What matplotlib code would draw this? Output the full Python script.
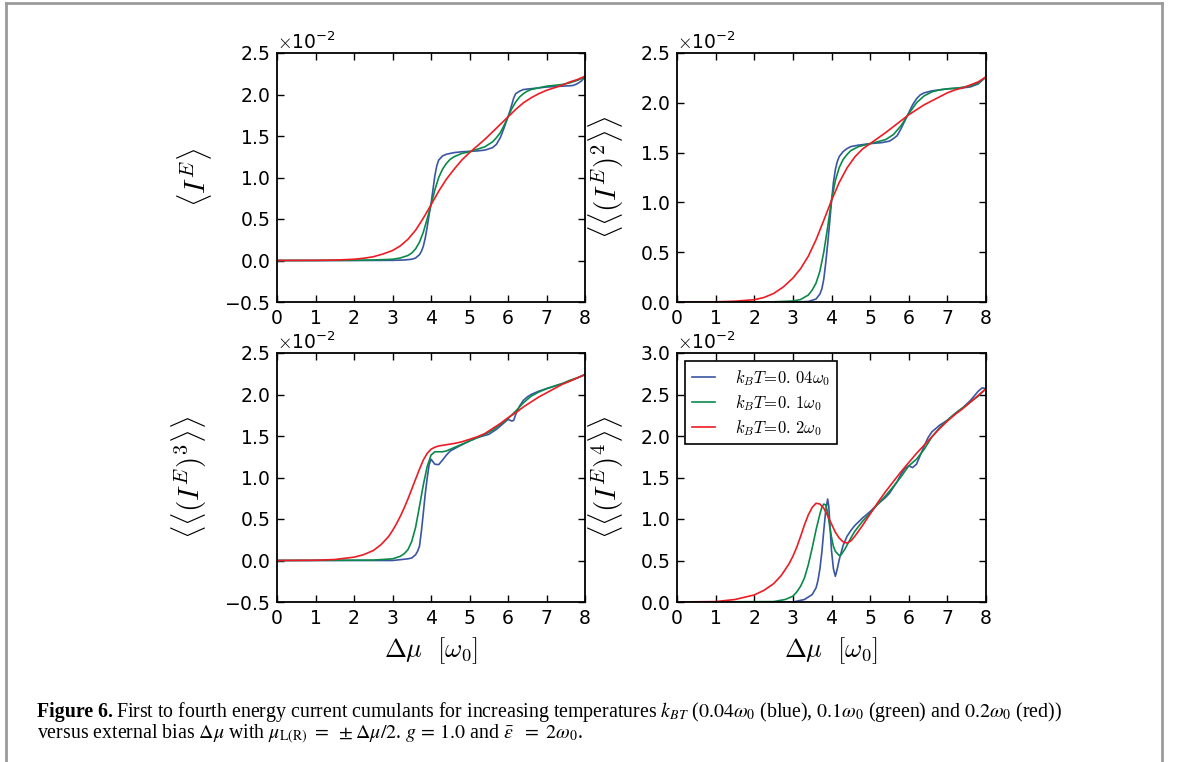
import matplotlib
matplotlib.use('Agg')
import matplotlib.pyplot as plt
from matplotlib.lines import Line2D
import numpy as np

plt.rcParams['mathtext.fontset'] = 'cm'
plt.rcParams['font.family'] = 'DejaVu Sans'

BLUE = '#3a55a4'
GREEN = '#0a8a4a'
RED = '#ec1c24'

temp_labels = [r'$k_BT\!=\!0.\,04\omega_0$', r'$k_BT\!=\!0.\,1\omega_0$', r'$k_BT\!=\!0.\,2\omega_0$']

# ---- panel 1: <I^E>  (values in units of 1e-2)
x1_blue = [0, 1, 2, 3, 3.3, 3.5, 3.6, 3.7, 3.75, 3.8, 3.85, 3.9, 3.95, 4.0, 4.05, 4.1, 4.15, 4.2, 4.3, 4.4, 4.6,
           4.8, 5.0, 5.2, 5.4, 5.6, 5.7, 5.8, 5.9, 6.0, 6.05, 6.1, 6.15, 6.2, 6.3, 6.4, 6.6, 6.8, 7.0, 7.2, 7.4,
           7.6, 7.7, 7.8, 7.9, 8.0]
y1_blue = [0, 0, 0, 0.002, 0.006, 0.015, 0.03, 0.07, 0.11, 0.17, 0.27, 0.40, 0.55, 0.68, 0.85, 1.02, 1.14, 1.21,
           1.26, 1.28, 1.30, 1.31, 1.315, 1.32, 1.33, 1.36, 1.40, 1.48, 1.60, 1.73, 1.80, 1.88, 1.96, 2.01, 2.04,
           2.06, 2.07, 2.08, 2.09, 2.095, 2.10, 2.105, 2.11, 2.13, 2.16, 2.21]
x1_green = [0, 1, 2, 2.5, 3.0, 3.2, 3.4, 3.5, 3.6, 3.7, 3.8, 3.9, 4.0, 4.1, 4.2, 4.3, 4.4, 4.5, 4.6, 4.8, 5.0,
            5.2, 5.4, 5.6, 5.7, 5.8, 5.9, 6.0, 6.1, 6.2, 6.3, 6.4, 6.5, 6.6, 6.8, 7.0, 7.2, 7.4, 7.6, 7.8, 8.0]
y1_green = [0, 0, 0.003, 0.006, 0.015, 0.03, 0.06, 0.09, 0.14, 0.22, 0.34, 0.50, 0.67, 0.85, 1.00, 1.10, 1.17,
            1.22, 1.25, 1.29, 1.31, 1.34, 1.37, 1.43, 1.48, 1.54, 1.63, 1.73, 1.83, 1.91, 1.97, 2.01, 2.04, 2.06,
            2.08, 2.10, 2.11, 2.12, 2.14, 2.17, 2.21]
x1_red = [0, 1, 1.5, 2.0, 2.25, 2.5, 2.75, 3.0, 3.2, 3.4, 3.6, 3.8, 4.0, 4.2, 4.4, 4.6, 4.8, 5.0, 5.2, 5.4, 5.6,
          5.8, 6.0, 6.2, 6.4, 6.6, 6.8, 7.0, 7.2, 7.4, 7.6, 7.8, 8.0]
y1_red = [0, 0.002, 0.005, 0.015, 0.027, 0.045, 0.078, 0.12, 0.175, 0.255, 0.365, 0.51, 0.67, 0.835, 0.98, 1.10,
          1.21, 1.30, 1.38, 1.46, 1.55, 1.64, 1.73, 1.82, 1.90, 1.96, 2.01, 2.05, 2.08, 2.11, 2.15, 2.18, 2.22]

# ---- panel 2: <<(I^E)^2>>
x2_blue = [0, 3.0, 3.4, 3.6, 3.7, 3.75, 3.8, 3.85, 3.9, 3.95, 4.0, 4.05, 4.1, 4.15, 4.2, 4.3, 4.4, 4.5, 4.7, 5.0,
           5.3, 5.5, 5.6, 5.7, 5.8, 5.9, 6.0, 6.1, 6.2, 6.3, 6.4, 6.6, 6.8, 7.0, 7.2, 7.4, 7.6, 7.8, 8.0]
y2_blue = [0, 0, 0.005, 0.03, 0.08, 0.13, 0.23, 0.39, 0.58, 0.79, 1.01, 1.20, 1.33, 1.41, 1.46, 1.51, 1.54, 1.56,
           1.575, 1.59, 1.60, 1.615, 1.64, 1.67, 1.74, 1.82, 1.90, 1.98, 2.04, 2.08, 2.10, 2.12, 2.13, 2.14, 2.145,
           2.15, 2.16, 2.19, 2.26]
x2_green = [0, 2.5, 3.0, 3.2, 3.4, 3.5, 3.6, 3.7, 3.8, 3.9, 4.0, 4.1, 4.2, 4.3, 4.4, 4.5, 4.7, 5.0, 5.2, 5.4,
            5.6, 5.8, 6.0, 6.2, 6.4, 6.6, 6.8, 7.0, 7.3, 7.6, 7.8, 8.0]
y2_green = [0, 0.002, 0.01, 0.025, 0.07, 0.12, 0.19, 0.31, 0.50, 0.75, 1.02, 1.22, 1.35, 1.43, 1.48, 1.52, 1.56,
            1.59, 1.61, 1.63, 1.68, 1.77, 1.89, 2.00, 2.07, 2.11, 2.13, 2.14, 2.15, 2.17, 2.20, 2.26]
x2_red = [0, 1.0, 1.5, 2.0, 2.25, 2.5, 2.75, 3.0, 3.2, 3.4, 3.6, 3.8, 4.0, 4.2, 4.4, 4.6, 4.8, 5.0, 5.2, 5.4, 5.6,
          5.8, 6.0, 6.2, 6.4, 6.6, 6.8, 7.0, 7.2, 7.4, 7.6, 7.8, 8.0]
y2_red = [0, 0.002, 0.008, 0.023, 0.045, 0.085, 0.15, 0.24, 0.335, 0.46, 0.625, 0.82, 1.02, 1.20, 1.345, 1.455,
          1.535, 1.59, 1.645, 1.70, 1.76, 1.82, 1.88, 1.93, 1.98, 2.02, 2.06, 2.10, 2.13, 2.15, 2.18, 2.21, 2.26]

# ---- panel 3: <<(I^E)^3>>
x3_blue = [0, 3.0, 3.4, 3.5, 3.6, 3.65, 3.7, 3.75, 3.8, 3.85, 3.9, 3.95, 4.0, 4.05, 4.1, 4.2, 4.3, 4.4, 4.5, 4.7,
           5.0, 5.2, 5.5, 5.7, 5.9, 6.0, 6.1, 6.15, 6.2, 6.3, 6.4, 6.5, 6.6, 6.8, 7.0, 7.2, 7.4, 7.6, 7.8, 8.0]
y3_blue = [0, 0, 0.02, 0.03, 0.07, 0.11, 0.17, 0.35, 0.57, 0.80, 0.99, 1.15, 1.22, 1.19, 1.16, 1.155, 1.21, 1.27,
           1.32, 1.37, 1.44, 1.48, 1.52, 1.58, 1.66, 1.70, 1.68, 1.69, 1.76, 1.86, 1.93, 1.97, 2.00, 2.04, 2.07,
           2.10, 2.13, 2.16, 2.20, 2.24]
x3_green = [0, 2.5, 3.0, 3.2, 3.3, 3.4, 3.5, 3.6, 3.7, 3.8, 3.9, 4.0, 4.1, 4.2, 4.3, 4.4, 4.6, 4.8, 5.0, 5.2,
            5.4, 5.6, 5.8, 6.0, 6.2, 6.4, 6.6, 6.8, 7.0, 7.2, 7.4, 7.6, 7.8, 8.0]
y3_green = [0, 0.005, 0.02, 0.05, 0.08, 0.13, 0.23, 0.40, 0.65, 0.91, 1.13, 1.27, 1.31, 1.31, 1.31, 1.32, 1.36,
            1.40, 1.44, 1.48, 1.52, 1.57, 1.64, 1.71, 1.80, 1.90, 1.98, 2.03, 2.07, 2.10, 2.13, 2.17, 2.20, 2.24]
x3_red = [0, 1.0, 1.5, 2.0, 2.25, 2.5, 2.7, 2.9, 3.0, 3.1, 3.2, 3.3, 3.4, 3.5, 3.6, 3.7, 3.8, 3.9, 4.0, 4.1, 4.2,
          4.4, 4.6, 4.8, 5.0, 5.2, 5.4, 5.6, 5.8, 6.0, 6.2, 6.4, 6.6, 6.8, 7.0, 7.2, 7.4, 7.6, 7.8, 8.0]
y3_red = [0, 0.003, 0.012, 0.04, 0.07, 0.12, 0.19, 0.29, 0.36, 0.44, 0.53, 0.63, 0.74, 0.86, 0.98, 1.10, 1.21, 1.29,
          1.34, 1.365, 1.38, 1.395, 1.41, 1.43, 1.46, 1.49, 1.53, 1.59, 1.65, 1.72, 1.78, 1.85, 1.91, 1.97, 2.02,
          2.07, 2.12, 2.16, 2.20, 2.24]

# ---- panel 4: <<(I^E)^4>>
x4_blue = [0, 3.0, 3.3, 3.5, 3.6, 3.65, 3.7, 3.75, 3.8, 3.85, 3.9, 3.93, 3.97, 4.0, 4.05, 4.1, 4.15, 4.2, 4.3,
           4.4, 4.5, 4.6, 4.8, 5.0, 5.2, 5.4, 5.5, 5.6, 5.7, 5.8, 5.9, 6.0, 6.1, 6.2, 6.3, 6.4, 6.5, 6.6, 6.8,
           7.0, 7.2, 7.4, 7.6, 7.8, 7.9, 8.0]
y4_blue = [0, 0, 0.03, 0.09, 0.17, 0.26, 0.40, 0.60, 0.86, 1.10, 1.24, 1.15, 0.85, 0.62, 0.40, 0.31, 0.40, 0.51,
           0.68, 0.79, 0.86, 0.92, 1.01, 1.09, 1.18, 1.26, 1.31, 1.38, 1.45, 1.54, 1.61, 1.64, 1.62, 1.66, 1.77,
           1.88, 1.98, 2.05, 2.13, 2.19, 2.27, 2.34, 2.43, 2.54, 2.58, 2.57]
x4_green = [0, 2.5, 2.8, 3.0, 3.1, 3.2, 3.3, 3.4, 3.5, 3.6, 3.7, 3.75, 3.8, 3.85, 3.9, 3.95, 4.0, 4.05, 4.1, 4.2,
            4.25, 4.35, 4.5, 4.6, 4.8, 5.0, 5.2, 5.4, 5.6, 5.8, 6.0, 6.2, 6.4, 6.6, 6.8, 7.0, 7.2, 7.4, 7.6,
            7.8, 8.0]
y4_green = [0, 0.005, 0.03, 0.07, 0.12, 0.19, 0.29, 0.45, 0.65, 0.87, 1.06, 1.14, 1.18, 1.17, 1.08, 0.92, 0.78,
            0.67, 0.61, 0.56, 0.57, 0.64, 0.77, 0.85, 0.97, 1.07, 1.18, 1.28, 1.39, 1.51, 1.64, 1.72, 1.84, 1.99,
            2.10, 2.19, 2.27, 2.34, 2.41, 2.48, 2.57]
x4_red = [0, 1.0, 1.5, 2.0, 2.25, 2.5, 2.7, 2.9, 3.0, 3.1, 3.2, 3.3, 3.4, 3.5, 3.6, 3.7, 3.8, 3.9, 4.0, 4.1, 4.2,
          4.3, 4.4, 4.5, 4.6, 4.8, 5.0, 5.2, 5.4, 5.6, 5.8, 6.0, 6.2, 6.4, 6.6, 6.8, 7.0, 7.2, 7.4, 7.6, 7.8, 8.0]
y4_red = [0, 0.005, 0.03, 0.085, 0.14, 0.22, 0.32, 0.46, 0.55, 0.66, 0.79, 0.93, 1.05, 1.14, 1.19, 1.18, 1.13,
          1.04, 0.94, 0.84, 0.77, 0.725, 0.71, 0.735, 0.79, 0.92, 1.06, 1.20, 1.33, 1.45, 1.57, 1.68, 1.79, 1.89,
          1.99, 2.09, 2.18, 2.26, 2.33, 2.41, 2.49, 2.57]

panels = [
    ((x1_blue, y1_blue), (x1_green, y1_green), (x1_red, y1_red)),
    ((x2_blue, y2_blue), (x2_green, y2_green), (x2_red, y2_red)),
    ((x3_blue, y3_blue), (x3_green, y3_green), (x3_red, y3_red)),
    ((x4_blue, y4_blue), (x4_green, y4_green), (x4_red, y4_red)),
]
ylabels = [r'$\langle I^E\rangle$',
           r'$\langle\langle (I^E)^2\rangle\rangle$',
           r'$\langle\langle (I^E)^3\rangle\rangle$',
           r'$\langle\langle (I^E)^4\rangle\rangle$']
ylims = [(-0.5, 2.5), (0.0, 2.5), (-0.5, 2.5), (0.0, 3.0)]
yticks = [np.arange(-0.5, 2.51, 0.5), np.arange(0.0, 2.51, 0.5), np.arange(-0.5, 2.51, 0.5), np.arange(0.0, 3.01, 0.5)]
x_ticks = [0, 1, 2, 3, 4, 5, 6, 7, 8]

W, H = 1179, 762
fig = plt.figure(figsize=(W / 100, H / 100), dpi=100)

# axes boxes in pixels (left, top, right, bottom)
boxes = [(277, 53, 585, 302), (677, 53, 986, 302), (277, 353, 585, 602), (677, 353, 986, 602)]
label_x = [-0.205, -0.165, -0.22, -0.165]

for i, (l, t, r, b) in enumerate(boxes):
    ax = fig.add_axes([l / W, 1 - b / H, (r - l) / W, (b - t) / H])
    for (xs, ys), c, lab in zip(panels[i], [BLUE, GREEN, RED], temp_labels):
        ax.plot(xs, np.array(ys) * 1e-2, color=c, lw=1.2, label=lab)
    ax.set_xlim(0, 8)
    ax.set_ylim(ylims[i][0] * 1e-2, ylims[i][1] * 1e-2)
    ax.set_xticks(x_ticks)
    ax.set_yticks(yticks[i] * 1e-2)
    ax.ticklabel_format(style='sci', axis='y', scilimits=(0, 0), useMathText=True)
    ax.yaxis.get_offset_text().set_fontsize(13.5)
    ax.tick_params(direction='in', top=True, right=True, length=5, width=1, labelsize=13.5, pad=5)
    for s in ax.spines.values():
        s.set_linewidth(1.3)
    ax.set_ylabel(ylabels[i], fontsize=21)
    ax.yaxis.set_label_coords(label_x[i], 0.5)
    if i >= 2:
        ax.set_xlabel(r'$\Delta\mu\ \ [\omega_0]$', fontsize=19, labelpad=5)
    if i == 3:
        leg = ax.legend(loc='upper left', fontsize=12, handlelength=1.4, handletextpad=1.2,
                        labelspacing=0.3, fancybox=False, framealpha=1, borderaxespad=0.5)
        leg.get_frame().set_edgecolor('black')
        leg.get_frame().set_linewidth(1.2)

# caption
cap_kw = dict(fontsize=14.3, family='Liberation Serif', math_fontfamily='stix', va='baseline')
t1 = fig.text(37 / W, 1 - 717 / H, 'Figure 6.', fontweight='bold', **cap_kw)
fig.canvas.draw()
bb = t1.get_window_extent()
fig.text(bb.x1 / W + 3 / W, 1 - 717 / H,
         r'First to fourth energy current cumulants for increasing temperatures $k_{BT}$ ($0.04\omega_0$ (blue), '
         r'$0.1\omega_0$ (green) and $0.2\omega_0$ (red))', **cap_kw)
fig.text(37 / W, 1 - 739 / H,
         r'versus external bias $\Delta\mu$ with $\mu_{\rm L(R)}\ =\ \pm\Delta\mu/2$. $g\,=\,1.0$ and '
         r'$\bar{\epsilon}\ \ =\ 2\omega_0$.', **cap_kw)

# gray page border
border = dict(color='#9a9a9a', lw=2, transform=fig.transFigure)
fig.add_artist(Line2D([6 / W, 6 / W], [0, 1 - 3 / H], **border))
fig.add_artist(Line2D([6 / W, 1162 / W], [1 - 3 / H, 1 - 3 / H], **border))
fig.add_artist(Line2D([1162 / W, 1162 / W], [0, 1 - 3 / H], **border))

fig.savefig('out.png', dpi=100)
